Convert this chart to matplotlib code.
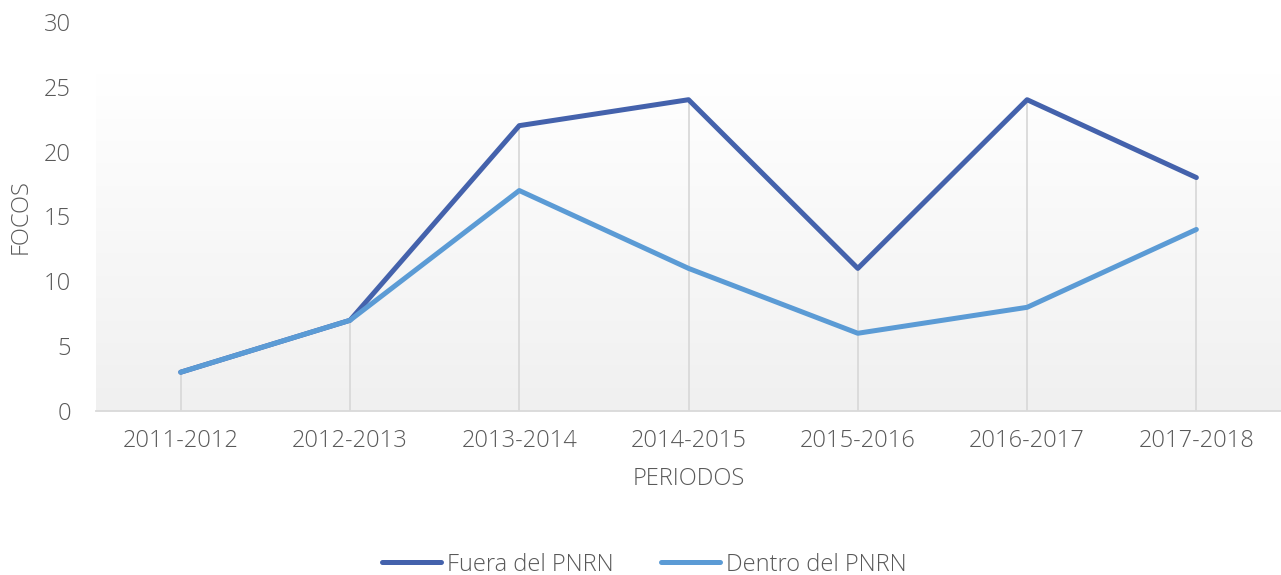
import numpy as np
import matplotlib.pyplot as plt
from matplotlib.colors import LinearSegmentedColormap

periodos = ['2011-2012', '2012-2013', '2013-2014', '2014-2015', '2015-2016', '2016-2017', '2017-2018']
fuera = [3, 7, 22, 24, 11, 24, 18]
dentro = [3, 7, 17, 11, 6, 8, 14]

plt.rcParams['font.family'] = ['Open Sans', 'DejaVu Sans']
txt = '#595959'
fs = 17

fig = plt.figure(figsize=(12.81, 5.75), dpi=100)
ax = fig.add_axes([0.075, 0.285, 0.925, 0.677])
x = np.arange(len(periodos))

# gradient fill behind plot
grad = np.linspace(0, 1, 256).reshape(-1, 1)
cmap = LinearSegmentedColormap.from_list('g', ['#f0f0f0', '#ffffff'])
ax.imshow(grad, cmap=cmap, extent=[-0.5, 6.5, 0, 26], origin='lower', aspect='auto', zorder=0)

# drop lines
for i in x:
    ax.plot([i, i], [0, max(fuera[i], dentro[i])], color='#d9d9d9', lw=1.3, zorder=1)

ax.plot(x, fuera, color='#4462ac', lw=3.6, solid_capstyle='round', label='Fuera del PNRN', zorder=3)
ax.plot(x, dentro, color='#5b9bd5', lw=3.6, solid_capstyle='round', label='Dentro del PNRN', zorder=3)

ax.set_xlim(-0.5, 6.5)
ax.set_ylim(0, 30)
ax.set_yticks(range(0, 31, 5))
ax.set_xticks(x)
ax.set_xticklabels(periodos)
for s in ['top', 'right', 'left']:
    ax.spines[s].set_visible(False)
ax.spines['bottom'].set_color('#d9d9d9')
ax.spines['bottom'].set_linewidth(1.3)
ax.tick_params(length=0, labelsize=fs, labelcolor=txt)
ax.tick_params(axis='y', pad=18)
ax.tick_params(axis='x', pad=13)
for t in ax.get_xticklabels() + ax.get_yticklabels():
    t.set_fontweight('light')
ax.set_ylabel('FOCOS', fontsize=fs, color=txt, fontweight='light', labelpad=8)
ax.set_xlabel('PERIODOS', fontsize=fs, color=txt, fontweight='light', labelpad=10)

leg = fig.legend(loc='lower center', bbox_to_anchor=(0.503, -0.04), ncol=2, frameon=False,
                 prop={'size': fs, 'weight': 'light'}, handlelength=2.5, columnspacing=2.0, handletextpad=0.25)
for t in leg.get_texts():
    t.set_color(txt)

fig.savefig('out.png', dpi=100, facecolor='white')
